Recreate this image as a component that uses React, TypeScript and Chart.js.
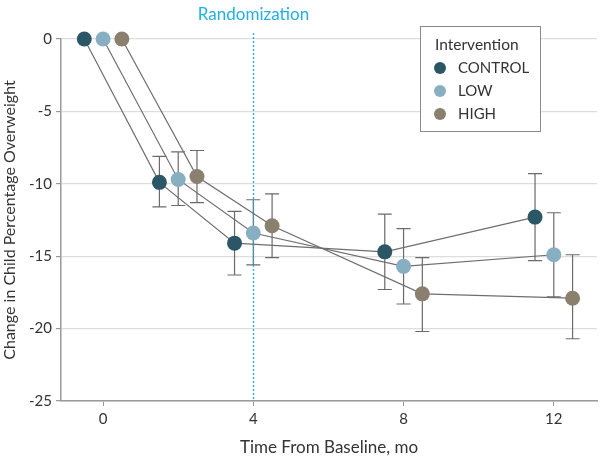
import React, { useEffect, useRef } from "react";
import { Chart, registerables } from "chart.js";

Chart.register(...registerables);

const seriesNames = ["CONTROL", "LOW", "HIGH"];
const seriesColors = ["#2a5666", "#88afc1", "#8b7f6e"];
const controlX = [-0.5, 1.5, 3.5, 7.5, 11.5];
const lowX = [0, 2, 4, 8, 12];
const highX = [0.5, 2.5, 4.5, 8.5, 12.5];
const controlY = [0, -9.9, -14.1, -14.7, -12.3];
const lowY = [0, -9.7, -13.4, -15.7, -14.9];
const highY = [0, -9.5, -12.9, -17.6, -17.9];
const controlHi = [null, -8.1, -11.9, -12.1, -9.3];
const controlLo = [null, -11.6, -16.3, -17.3, -15.3];
const lowHi = [null, -7.8, -11.1, -13.1, -12.0];
const lowLo = [null, -11.5, -15.6, -18.3, -17.8];
const highHi = [null, -7.7, -10.7, -15.1, -14.9];
const highLo = [null, -11.3, -15.1, -20.2, -20.7];
const xTicks = [0, 4, 8, 12];
const yTicks = [0, -5, -10, -15, -20, -25];
const randomizationX = 4;

const FONT = "Lato, 'Open Sans', sans-serif";

export default function App() {
  const ref = useRef<HTMLCanvasElement>(null);
  useEffect(() => {
    document.body.style.margin = "0";
    const xs = [controlX, lowX, highX];
    const ys = [controlY, lowY, highY];
    const his = [controlHi, lowHi, highHi];
    const los = [controlLo, lowLo, highLo];

    const errorBars = {
      id: "errorBars",
      beforeDatasetsDraw(chart: any) {
        const { ctx, scales } = chart;
        ctx.save();
        ctx.strokeStyle = "#6b6b6b";
        ctx.lineWidth = 1.2;
        for (let s = 0; s < 3; s++) {
          for (let i = 0; i < xs[s].length; i++) {
            const hi = his[s][i];
            const lo = los[s][i];
            if (hi == null || lo == null) continue;
            const px = scales.x.getPixelForValue(xs[s][i]);
            const pt = scales.y.getPixelForValue(hi);
            const pb = scales.y.getPixelForValue(lo);
            ctx.beginPath();
            ctx.moveTo(px, pt);
            ctx.lineTo(px, pb);
            ctx.moveTo(px - 7, pt);
            ctx.lineTo(px + 7, pt);
            ctx.moveTo(px - 7, pb);
            ctx.lineTo(px + 7, pb);
            ctx.stroke();
          }
        }
        const rx = Math.round(scales.x.getPixelForValue(randomizationX)) + 0.5;
        ctx.strokeStyle = "#22b0e4";
        ctx.lineWidth = 1.3;
        ctx.setLineDash([2, 2]);
        ctx.beginPath();
        ctx.moveTo(rx, chart.chartArea.top - 6);
        ctx.lineTo(rx, chart.chartArea.bottom);
        ctx.stroke();
        ctx.setLineDash([]);
        ctx.fillStyle = "#22b0e4";
        ctx.font = `17px ${FONT}`;
        ctx.textAlign = "center";
        ctx.textBaseline = "middle";
        ctx.fillText("Randomization", rx, 15);
        ctx.restore();
      },
      afterDraw(chart: any) {
        const { ctx } = chart;
        ctx.save();
        const bx = 420, by = 26, bw = 120, bh = 105;
        ctx.fillStyle = "#ffffff";
        ctx.fillRect(bx, by, bw, bh);
        ctx.strokeStyle = "#8a8a8a";
        ctx.lineWidth = 1;
        ctx.strokeRect(bx + 0.5, by + 0.5, bw, bh);
        ctx.fillStyle = "#333";
        ctx.font = `15.5px ${FONT}`;
        ctx.textAlign = "left";
        ctx.textBaseline = "middle";
        ctx.fillText("Intervention", 435, 45);
        ctx.font = `15px ${FONT}`;
        for (let s = 0; s < 3; s++) {
          const cy = 68 + s * 23;
          ctx.beginPath();
          ctx.arc(440, cy, 6, 0, Math.PI * 2);
          ctx.fillStyle = seriesColors[s];
          ctx.fill();
          ctx.fillStyle = "#333";
          ctx.fillText(seriesNames[s], 458, cy);
        }
        ctx.restore();
      },
    };

    const chart = new Chart(ref.current!, {
      type: "scatter",
      data: {
        datasets: seriesNames.map((name, s) => ({
          label: name,
          data: xs[s].map((x, i) => ({ x, y: ys[s][i] })),
          showLine: true,
          borderColor: "#6e6e6e",
          borderWidth: 1.2,
          backgroundColor: seriesColors[s],
          pointBackgroundColor: seriesColors[s],
          pointBorderWidth: 0,
          pointRadius: 7.5,
          pointHoverRadius: 7.5,
          clip: false,
        })),
      },
      options: {
        animation: false,
        responsive: false,
        layout: { autoPadding: false, padding: { top: 39, right: 3, left: 0, bottom: 0 } },
        plugins: {
          legend: { display: false },
          tooltip: { enabled: false },
        },
        scales: {
          x: {
            type: "linear",
            min: -1.12,
            max: 13.15,
            afterBuildTicks: (scale: any) => {
              scale.ticks = xTicks.map((v) => ({ value: v }));
            },
            afterFit: (scale: any) => {
              scale.height = 57;
              scale.paddingLeft = 0;
              scale.paddingRight = 0;
            },
            grid: {
              drawOnChartArea: false,
              drawTicks: true,
              tickLength: 5,
              color: "#999",
            },
            border: { color: "#999", width: 1.5 },
            ticks: {
              color: "#333",
              font: { family: FONT, size: 15 },
              padding: 4,
              maxRotation: 0,
            },
            title: {
              display: true,
              text: "Time From Baseline, mo",
              color: "#333",
              font: { family: FONT, size: 17 },
              padding: { top: 6, bottom: 0 },
            },
          },
          y: {
            min: -25,
            max: 0,
            afterBuildTicks: (scale: any) => {
              scale.ticks = yTicks.map((v) => ({ value: v }));
            },
            afterFit: (scale: any) => {
              scale.width = 61;
              scale.paddingTop = 0;
              scale.paddingBottom = 0;
            },
            grid: {
              color: "#dddddd",
              tickColor: "#999",
              tickLength: 5,
              lineWidth: 1.2,
            },
            border: { color: "#999", width: 1.5 },
            ticks: {
              color: "#333",
              font: { family: FONT, size: 15 },
              padding: 4,
            },
            title: {
              display: true,
              text: "Change in Child Percentage Overweight",
              color: "#333",
              font: { family: FONT, size: 16 },
              padding: { top: 0, bottom: 2 },
            },
          },
        },
      },
      plugins: [errorBars],
    });
    return () => chart.destroy();
  }, []);
  return (
    <div style={{ width: 600, height: 458 }}>
      <canvas ref={ref} width={600} height={458} style={{ width: 600, height: 458 }} />
    </div>
  );
}
